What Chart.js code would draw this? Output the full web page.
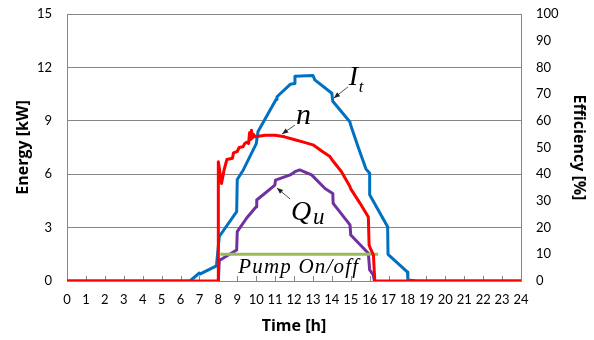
<!DOCTYPE html>
<html><head><meta charset="utf-8">
<script src="https://cdn.jsdelivr.net/npm/chart.js@4"></script>
<style>html,body{margin:0;padding:0;background:#fff}</style>
</head><body>
<canvas id="c" width="594" height="340" style="width:594px;height:340px;display:block"></canvas>
<script>
// ---- data ----
const hourTicks = [0,1,2,3,4,5,6,7,8,9,10,11,12,13,14,15,16,17,18,19,20,21,22,23,24];

// Efficiency n [%] (right axis)
const effHours  = [0, 8.0, 8.0, 8.17, 8.3, 8.45, 8.75, 8.8, 9.0, 9.1, 9.3, 9.4, 9.5, 9.6, 9.65, 9.7, 9.75, 9.8, 9.85, 9.95, 10.1, 10.5, 11.0, 11.5, 12.0, 12.5, 13.0, 13.5, 13.9, 14.0, 14.5, 14.95, 15.0, 15.5, 15.93, 15.97, 16.05, 16.2, 16.27, 24];
const effValues = [0, 0, 44.7, 36.5, 41.5, 45.5, 46, 48, 48.5, 50, 50.3, 51.5, 52, 51.5, 55.5, 53, 56.5, 53.5, 55, 54, 54.2, 54.6, 54.6, 54, 53, 52, 51, 48.5, 46.6, 45.5, 41, 35.5, 34.5, 29, 24, 13.5, 12, 9.7, 0, 0];

// Solar irradiation It [kW]
const itHours  = [0, 6.5, 7.0, 7.05, 7.9, 8.05, 8.97, 9.0, 9.32, 10.0, 10.1, 11.05, 11.1, 11.8, 12.05, 12.05, 13.0, 13.1, 14.0, 14.05, 14.95, 15.0, 15.4, 15.8, 16.0, 16.0, 16.95, 16.97, 18.0, 18.02, 18.5, 24];
const itValues = [0, 0, 0.45, 0.4, 0.85, 2.5, 3.9, 5.7, 6.24, 7.7, 8.4, 10.2, 10.35, 11.05, 11.1, 11.5, 11.55, 11.3, 10.55, 10.1, 8.95, 8.75, 7.5, 6.3, 6.05, 4.85, 3.05, 1.5, 0.5, 0.05, 0, 0];

// Useful heat Qu [kW]
const quHours  = [8.0, 8.05, 8.97, 9.0, 9.5, 10.0, 10.03, 10.99, 11.02, 11.8, 12.05, 12.3, 12.93, 13.64, 14.05, 14.07, 14.96, 15.0, 15.93, 16.0, 16.19, 16.25];
const quValues = [0, 1.15, 1.74, 2.77, 3.54, 4.17, 4.55, 5.39, 5.67, 5.96, 6.14, 6.24, 5.96, 5.2, 4.92, 4.36, 3.15, 2.58, 1.56, 0.62, 0.34, 0];

// Pump on/off [kW level]
const pumpHours  = [8.1, 16.45];
const pumpValues = [1.5, 1.5];

const energyTicks = [0,3,6,9,12,15];
const effTicks = [0,10,20,30,40,50,60,70,80,90,100];

const toPts = (xs, ys) => xs.map((x, i) => ({x, y: ys[i]}));

// annotations (data coordinates, left axis)
const notes = [
  {main:'I', sub:'t', h:14.9, v:11.0, size:28, subSize:17, subDx:10, subDy:7, ah:[14.85,10.9,14.11,10.28]},
  {main:'n', sub:'', h:12.1, v:8.82, size:30, ah:[12.05,8.76,11.37,8.26]},
  {main:'Q', sub:'u', h:11.84, v:3.43, size:28, subSize:23, subDx:22, subDy:4, ah:[11.79,4.61,11.1,5.22]},
  {main:'Pump On/off', sub:'', h:9.05, v:0.45, size:21, spacing:'1.2px', ah:null}
];

const GRID = '#868686';

const decor = {
  id:'decor',
  beforeDatasetsDraw(chart){
    const {ctx} = chart, x = chart.scales.x, y = chart.scales.y;
    const y0 = y.getPixelForValue(0);
    ctx.save();
    ctx.strokeStyle = GRID; ctx.lineWidth = 1;
    hourTicks.forEach(h => {
      const px = Math.round(x.getPixelForValue(h)) + 0.5;
      ctx.beginPath(); ctx.moveTo(px, y0); ctx.lineTo(px, y0 - 5); ctx.stroke();
    });
    ctx.restore();
  },
  afterDatasetsDraw(chart){
    const {ctx} = chart, x = chart.scales.x, y = chart.scales.y;
    ctx.save();
    notes.forEach(n => {
      const px = x.getPixelForValue(n.h), py = y.getPixelForValue(n.v);
      ctx.fillStyle = '#000';
      ctx.textBaseline = 'alphabetic'; ctx.textAlign = 'left';
      ctx.font = `italic ${n.size}px "Liberation Serif", "DejaVu Serif", serif`;
      ctx.letterSpacing = n.spacing || '0px';
      ctx.fillText(n.main, px, py);
      ctx.letterSpacing = '0px';
      if (n.sub) {
        ctx.font = `italic ${n.subSize}px "Liberation Serif", serif`;
        ctx.fillText(n.sub, px + n.subDx, py + n.subDy);
      }
      if (n.ah) {
        const x1 = x.getPixelForValue(n.ah[0]), y1 = y.getPixelForValue(n.ah[1]);
        const x2 = x.getPixelForValue(n.ah[2]), y2 = y.getPixelForValue(n.ah[3]);
        ctx.strokeStyle = '#222'; ctx.lineWidth = 0.8;
        ctx.beginPath(); ctx.moveTo(x1, y1); ctx.lineTo(x2, y2); ctx.stroke();
        const a = Math.atan2(y2 - y1, x2 - x1), L = 6, W = 2.5;
        ctx.fillStyle = '#222';
        ctx.beginPath();
        ctx.moveTo(x2, y2);
        ctx.lineTo(x2 - L*Math.cos(a) + W*Math.sin(a), y2 - L*Math.sin(a) - W*Math.cos(a));
        ctx.lineTo(x2 - L*Math.cos(a) - W*Math.sin(a), y2 - L*Math.sin(a) + W*Math.cos(a));
        ctx.closePath(); ctx.fill();
      }
    });
    ctx.restore();
  }
};

const tickFont = {family:'Lato, "Open Sans", sans-serif', size:13};
const titleFont = {family:'"Open Sans", Lato, sans-serif', size:16, weight:'bold'};
const noVPad = s => { s.paddingTop = 0; s.paddingBottom = 0; };

new Chart(document.getElementById('c'), {
  type:'line',
  data:{datasets:[
    {label:'n', data:toPts(effHours, effValues), yAxisID:'y1', borderColor:'#FF0000', borderWidth:3},
    {label:'It', data:toPts(itHours, itValues), yAxisID:'y', borderColor:'#0070C0', borderWidth:3},
    {label:'Pump', data:toPts(pumpHours, pumpValues), yAxisID:'y', borderColor:'#9BBB59', borderWidth:3},
    {label:'Qu', data:toPts(quHours, quValues), yAxisID:'y', borderColor:'#7030A0', borderWidth:3}
  ]},
  options:{
    responsive:false, animation:false,
    layout:{padding:{top:14, left:0, right:0, bottom:0}},
    elements:{point:{radius:0}, line:{tension:0, borderJoinStyle:'round', borderCapStyle:'butt'}},
    plugins:{legend:{display:false}, tooltip:{enabled:false}},
    scales:{
      x:{type:'linear', min:0, max:24,
        afterBuildTicks(s){ s.ticks = hourTicks.map(v => ({value:v})); },
        afterFit(s){ s.height = 59; },
        grid:{display:false, drawTicks:false},
        border:{display:true, color:GRID, width:1},
        ticks:{color:'#000', font:tickFont, padding:11, maxRotation:0, autoSkip:false},
        title:{display:true, text:'Time [h]', color:'#000', font:titleFont, padding:{top:0, bottom:4}}
      },
      y:{type:'linear', position:'left', min:0, max:15,
        afterBuildTicks(s){ s.ticks = energyTicks.map(v => ({value:v})); },
        afterFit(s){ s.width = 67; noVPad(s); },
        grid:{color:GRID, lineWidth:1, drawTicks:false},
        border:{display:true, color:GRID, width:1},
        ticks:{color:'#000', font:tickFont, padding:15},
        title:{display:true, text:'Energy [kW]', color:'#000', font:titleFont, padding:{top:14, bottom:0}}
      },
      y1:{type:'linear', position:'right', min:0, max:100,
        afterBuildTicks(s){ s.ticks = effTicks.map(v => ({value:v})); },
        afterFit(s){ s.width = 73; noVPad(s); },
        grid:{drawOnChartArea:false, drawTicks:false},
        border:{display:true, color:GRID, width:1},
        ticks:{color:'#000', font:tickFont, padding:15},
        title:{display:true, text:'Efficiency [%]', color:'#000', font:titleFont, padding:{top:6, bottom:0}}
      }
    }
  },
  plugins:[decor]
});
</script>
</body></html>
